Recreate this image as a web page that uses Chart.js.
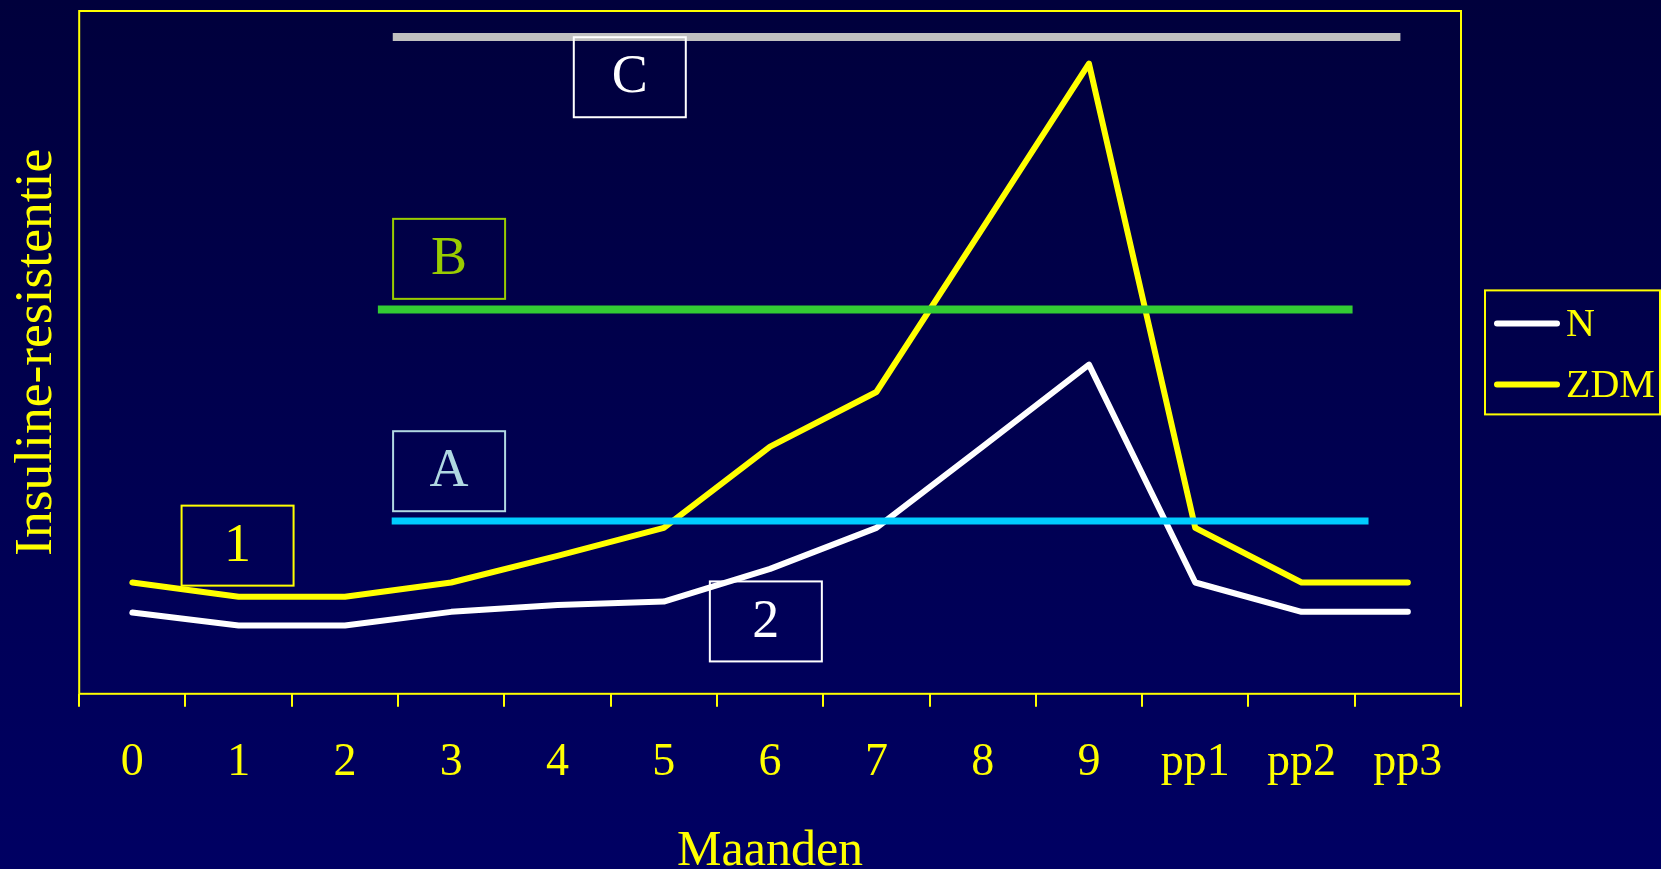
<!DOCTYPE html>
<html>
<head>
<meta charset="utf-8">
<script src="https://cdn.jsdelivr.net/npm/chart.js@4/dist/chart.umd.min.js"></script>
<style>
  html, body { margin: 0; padding: 0; width: 1661px; height: 869px; overflow: hidden;
    background: linear-gradient(#00003c, #000063); }
  #wrap { position: relative; width: 1661px; height: 869px; }
</style>
</head>
<body>
<div id="wrap"><canvas id="c"></canvas></div>
<script>
// Months of pregnancy plus three post-partum periods
const months = ['0', '1', '2', '3', '4', '5', '6', '7', '8', '9', 'pp1', 'pp2', 'pp3'];

// Insulin resistance, normal pregnancy (N) and gestational diabetes (ZDM)
const normal = [11.9, 10.0, 10.0, 12.0, 13.0, 13.5, 18.3, 24.3, 36.2, 48.2, 16.3, 12.0, 12.0];
const zdm    = [16.3, 14.2, 14.2, 16.3, 20.2, 24.3, 36.2, 44.2, 68.2, 92.3, 24.3, 16.3, 16.3];
const seriesNames = ['N', 'ZDM'];

// Threshold levels A, B, C: level value and span along the month axis
const levelNames  = ['A', 'B', 'C'];
const levelValues = [25.3, 56.3, 96.2];
const levelFrom   = [2.44, 2.31, 2.45];
const levelTo     = [11.63, 11.48, 11.93];

// Framed labels
const boxTexts = ['1', '2', 'A', 'B', 'C'];

const YELLOW = '#ffff00';
const SERIF = '"Liberation Serif", "Times New Roman", serif';

const levelStyle = [
  { color: '#00ccff', width: 7 },
  { color: '#33cc33', width: 8 },
  { color: '#c0c0c0', width: 8 }
];

// where each framed label sits, in month / value units
const boxPlacement = [
  { x: 0.99, y: 21.7, color: YELLOW },
  { x: 5.96, y: 10.6, color: '#ffffff' },
  { x: 2.98, y: 32.6, color: '#b0d8e2' },
  { x: 2.98, y: 63.7, color: '#99cc00' },
  { x: 4.68, y: 90.3, color: '#ffffff' }
];

const seriesStyle = [
  { color: '#ffffff', width: 6 },
  { color: YELLOW, width: 6 }
];

const levelDatasets = levelNames.map((name, i) => ({
  label: name,
  data: [{ x: levelFrom[i], y: levelValues[i] }, { x: levelTo[i], y: levelValues[i] }],
  xAxisID: 'xr',
  borderColor: levelStyle[i].color,
  borderWidth: levelStyle[i].width,
  borderCapStyle: 'butt',
  pointRadius: 0,
  fill: false,
  order: 0
}));

const seriesDatasets = [normal, zdm].map((vals, i) => ({
  label: seriesNames[i],
  data: vals,
  xAxisID: 'x',
  borderColor: seriesStyle[i].color,
  borderWidth: seriesStyle[i].width,
  borderCapStyle: 'round',
  borderJoinStyle: 'round',
  pointRadius: 0,
  tension: 0,
  fill: false,
  order: 1
}));

// plot frame, framed labels and the series key
const decor = {
  id: 'decor',
  beforeDatasetsDraw(chart) {
    const { ctx, chartArea: a } = chart;
    ctx.save();
    ctx.strokeStyle = YELLOW;
    ctx.lineWidth = 2;
    ctx.strokeRect(a.left, a.top, a.right - a.left, a.bottom - a.top);
    ctx.restore();
  },
  afterDatasetsDraw(chart) {
    const { ctx, chartArea: a, scales } = chart;
    const xr = scales.xr, y = scales.y;
    ctx.save();
    ctx.textAlign = 'center';
    ctx.textBaseline = 'middle';
    ctx.font = '54px ' + SERIF;
    boxTexts.forEach((t, i) => {
      const b = boxPlacement[i];
      const cx = xr.getPixelForValue(b.x);
      const cy = y.getPixelForValue(b.y);
      ctx.strokeStyle = b.color;
      ctx.lineWidth = 2;
      ctx.strokeRect(cx - 56, cy - 40, 112, 80);
      ctx.fillStyle = b.color;
      ctx.fillText(t, cx, cy + 1);
    });

    // key box to the right of the plot
    const kx = a.right + 24, kw = 175, kh = 124;
    const ky = (a.top + a.bottom) / 2 - kh / 2;
    ctx.strokeStyle = YELLOW;
    ctx.lineWidth = 2;
    ctx.strokeRect(kx, ky, kw, kh);
    ctx.font = '40px ' + SERIF;
    ctx.textAlign = 'left';
    seriesDatasets.forEach((ds, i) => {
      const ly = ky + 33 + i * 61;
      ctx.strokeStyle = ds.borderColor;
      ctx.lineWidth = 6;
      ctx.lineCap = 'round';
      ctx.beginPath();
      ctx.moveTo(kx + 12, ly);
      ctx.lineTo(kx + 72, ly);
      ctx.stroke();
      ctx.fillStyle = YELLOW;
      ctx.fillText(ds.label, kx + 81, ly + 2);
    });
    ctx.restore();
  }
};

new Chart(document.getElementById('c'), {
  type: 'line',
  data: {
    labels: months,
    datasets: [...levelDatasets, ...seriesDatasets]
  },
  options: {
    responsive: true,
    maintainAspectRatio: false,
    animation: false,
    layout: { padding: { top: 11, right: 200, bottom: 0, left: 0 } },
    plugins: { legend: { display: false }, tooltip: { enabled: false } },
    scales: {
      x: {
        type: 'category',
        offset: true,
        grid: { offset: true, drawOnChartArea: false, drawTicks: true, tickLength: 13, color: YELLOW, lineWidth: 2 },
        border: { display: false },
        ticks: { color: YELLOW, font: { family: SERIF, size: 46 }, padding: 29, maxRotation: 0, autoSkip: false },
        title: { display: true, text: 'Maanden', color: YELLOW,
          font: { family: SERIF, size: 50, lineHeight: 0.7 }, padding: { top: 14, bottom: 0 } }
      },
      xr: { type: 'linear', display: false, min: -0.5, max: 12.5 },
      y: {
        min: 0, max: 100,
        ticks: { display: false },
        grid: { display: false, drawTicks: false },
        border: { display: false },
        title: { display: true, text: 'Insuline-resistentie', color: YELLOW,
          font: { family: SERIF, size: 53.5, lineHeight: 1.2 }, padding: { top: 5, bottom: 10 } }
      }
    }
  },
  plugins: [decor]
});
</script>
</body>
</html>
